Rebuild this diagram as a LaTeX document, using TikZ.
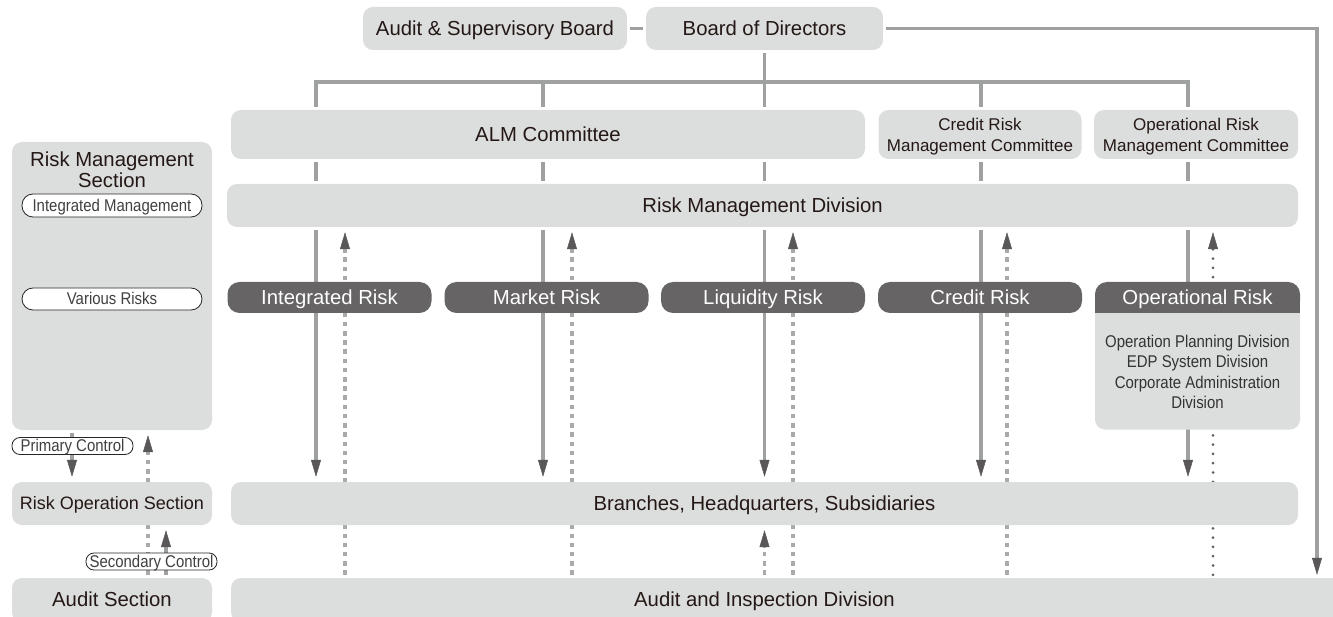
\documentclass[tikz,border=0pt]{standalone}
\usepackage{fontspec}
\setmainfont{Liberation Sans}
\newfontfamily\narrowfont[FakeStretch=0.88]{Liberation Sans}
\usetikzlibrary{arrows.meta}

\definecolor{boxgray}{HTML}{DCDDDD}
\definecolor{linegray}{HTML}{9FA0A0}
\definecolor{tipgray}{HTML}{595757}
\definecolor{riskgray}{HTML}{666464}
\definecolor{dashgray}{HTML}{AAAAAA}
\definecolor{dotgray}{HTML}{5F5F5F}
\definecolor{inkgray}{HTML}{231815}

\pgfdeclarelayer{background}
\pgfsetlayers{background,main}

\begin{document}
\begin{tikzpicture}[x=1pt,y=-1pt,inner sep=0pt,text=inkgray,
    >={Triangle[width=10pt,length=17pt,line width=0.5pt,color=tipgray]}]
  \tikzset{
    box/.style={fill=boxgray, rounded corners=10pt, text height=14.6pt, text depth=0.8pt, font=\fontsize{20.3}{22}\selectfont},
    cmte/.style={box, text height=33.5pt, text depth=0pt, minimum width=203pt, minimum height=49pt, align=center, font=\fontsize{17}{21}\selectfont},
    riskbox/.style={fill=riskgray, rounded corners=12pt, text=white, minimum width=204pt, minimum height=31pt, text height=14.6pt, text depth=0.8pt, font=\fontsize{20.3}{22}\selectfont},
    tag/.style={fill=white, draw=black!85, line width=0.8pt, rounded corners=8pt, text=black!75, text height=12.2pt, text depth=1pt, font=\narrowfont\fontsize{17}{20}\selectfont},
    link/.style={draw=linegray, line width=3.8pt},
    solidarr/.style={link, ->, shorten <=3pt, shorten >=5pt},
    dasharr/.style={draw=dashgray, line width=3.8pt, dash pattern=on 4.5pt off 4.7pt, ->, shorten <=3pt, shorten >=5pt},
    dotarr/.style={draw=dotgray, line width=3pt, line cap=round, dash pattern=on 0pt off 9.3pt, ->, shorten <=3pt, shorten >=5pt}
  }
  \path[use as bounding box, clip] (0,0) rectangle (1333,617);

  % board level
  \node[box, minimum width=264pt, minimum height=43pt] (asb) at (495,28.5) {Audit \& Supervisory Board};
  \node[box, minimum width=237pt, minimum height=43pt] (bod) at (764.5,28.5) {Board of Directors};

  % committees
  \node[box, minimum width=634pt, minimum height=49pt] (alm) at (548,134.5) {ALM Committee};
  \node[cmte] (crm) at (980,134.5) {Credit Risk\\Management Committee};
  \node[cmte, minimum width=204pt] (orm) at (1196,134.5) {Operational Risk\\Management Committee};
  \node[box, minimum width=1071pt, minimum height=43pt] (rmd) at (762.5,205.5) {Risk Management Division};

  % risk categories
  \node[riskbox] (ir) at (329.5,297.5) {Integrated Risk};
  \node[riskbox] (mr) at (546.5,297.5) {Market Risk};
  \node[riskbox] (lr) at (763,297.5) {Liquidity Risk};
  \node[riskbox] (cr) at (980,297.5) {Credit Risk};
  \fill[boxgray] (1095,313) rectangle (1300,330);
  \node[box, text height=, text depth=, minimum width=205pt, minimum height=115pt, align=center, text=black!80,
        font=\narrowfont\fontsize{17}{20.5}\selectfont] (orb) at (1197.5,372)
        {Operation Planning Division\\EDP System Division\\Corporate Administration\\Division};
  \fill[riskgray] (1095,297) rectangle (1300,313);
  \node[riskbox, minimum width=205pt] (or) at (1197.5,297.5) {Operational Risk};

  % front line and audit
  \node[box, minimum width=1067pt, minimum height=43pt] (bhs) at (764.5,503.5) {Branches, Headquarters, Subsidiaries};
  \fill[boxgray] (1000,578) rectangle (1345,622);
  \node[box, minimum width=1067pt, minimum height=44pt] (aid) at (764.5,600) {Audit and Inspection Division};

  % left column
  \node[box, text height=, text depth=, minimum width=200pt, minimum height=288pt] (rms) at (112,286) {};
  \node[align=center, font=\fontsize{20.3}{21}\selectfont] (rmst) at (112,170) {Risk Management\\Section};
  \node[tag, minimum width=180pt, minimum height=23pt, rounded corners=11pt] (tim) at (112,205.5) {Integrated Management};
  \node[tag, minimum width=180pt, minimum height=22pt, rounded corners=11pt] (tvr) at (112,299) {Various Risks};
  \node[box, minimum width=200pt, minimum height=43pt, text height=13pt, text depth=0.8pt, font=\fontsize{18}{20}\selectfont] (ros) at (112,503.5) {Risk Operation Section};
  \node[box, minimum width=200pt, minimum height=44pt] (asn) at (112,600) {Audit Section};
  \node[tag, minimum width=121pt, minimum height=17pt] (tpc) at (72.5,446) {Primary Control};
  \node[tag, minimum width=131pt, minimum height=17pt] (tsc) at (151.5,561.5) {Secondary Control};

  % columns
  \coordinate (c1) at (316,82);
  \coordinate (c2) at (543,82);
  \coordinate (c3) at (764.5,82);
  \coordinate (c4) at (981,82);
  \coordinate (c5) at (1188,82);
  \coordinate (d1) at (345,0);
  \coordinate (d2) at (572,0);
  \coordinate (d3) at (793,0);
  \coordinate (d4) at (1007,0);
  \coordinate (d5) at (1213,0);
  \coordinate (r1) at (1317,0);
  \coordinate (l1) at (72,0);
  \coordinate (l2) at (148,0);
  \coordinate (l3) at (166,0);

  \begin{pgfonlayer}{background}
    \draw[link, shorten <=3pt, shorten >=3pt] (asb) -- (bod);
    \draw[link, ->, shorten <=3pt, shorten >=3pt] (bod.east) -- (r1 |- bod.east) -- (r1 |- aid.north);
    \draw[link, shorten <=3pt, shorten >=3pt] (bod.south) -- (c3 |- alm.north);
    \draw[link, shorten <=3pt, shorten >=3pt] (c1 |- alm.north) -- (c1) -- (c5) -- (c5 |- orm.north);
    \foreach \c in {c2,c4}
      \draw[link, shorten >=3pt] (\c) -- (\c |- alm.north);
    \foreach \c in {c1,c2,c3,c4,c5}
      \draw[link, shorten <=3pt, shorten >=3pt] (\c |- alm.south) -- (\c |- rmd.north);
    \foreach \c in {c1,c2,c3,c4,c5}
      \draw[solidarr] (\c |- rmd.south) -- (\c |- bhs.north);
    \foreach \d in {d1,d2,d3,d4}
      \draw[dasharr] (\d |- aid.north) -- (\d |- rmd.south);
    \draw[dotarr] (d5 |- aid.north) -- (d5 |- rmd.south);
    \draw[dasharr] (c3 |- aid.north) -- (c3 |- bhs.south);
    % left controls
    \draw[solidarr] (l1 |- rms.south) -- (l1 |- ros.north);
    \draw[dasharr] (l2 |- asn.north) -- (l2 |- rms.south);
    \draw[solidarr] (l3 |- asn.north) -- (l3 |- ros.south);
  \end{pgfonlayer}
\end{tikzpicture}
\end{document}
